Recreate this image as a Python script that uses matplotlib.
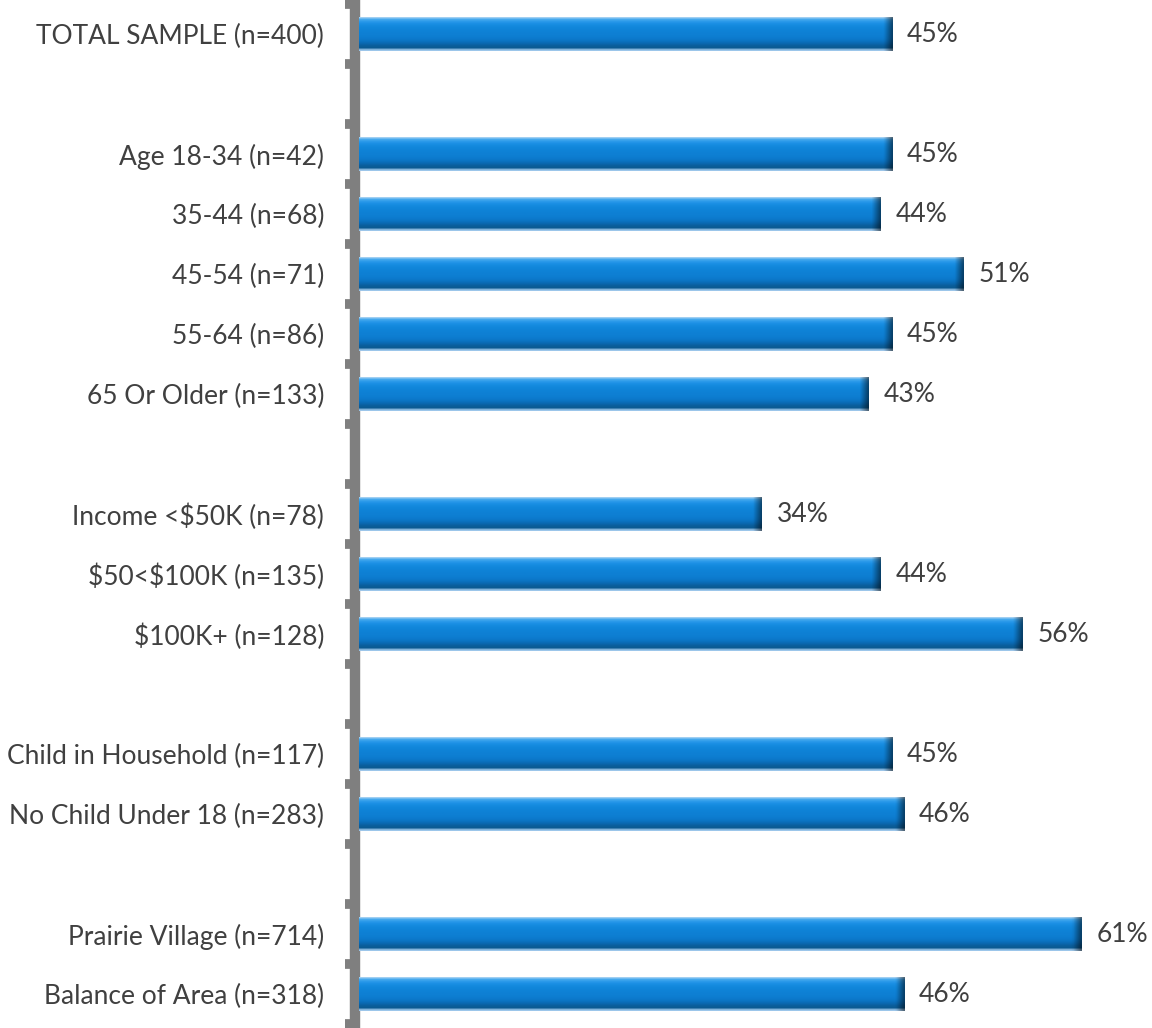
import numpy as np
import matplotlib
matplotlib.use("Agg")
import matplotlib.pyplot as plt
from matplotlib.colors import to_rgb

plt.rcParams["font.family"] = ["Lato", "DejaVu Sans"]

labels = ["TOTAL SAMPLE (n=400)",
          "Age 18-34 (n=42)", "35-44 (n=68)", "45-54 (n=71)", "55-64 (n=86)", "65 Or Older (n=133)",
          r"Income <\$50K (n=78)", r"\$50<\$100K (n=135)", r"\$100K+ (n=128)",
          "Child in Household (n=117)", "No Child Under 18 (n=283)",
          "Prairie Village (n=714)", "Balance of Area (n=318)"]
values = [45, 45, 44, 51, 45, 43, 34, 44, 56, 45, 46, 61, 46]
group_sizes = [1, 5, 3, 2, 2]

text_color = "#404040"
axis_gray = "#7f7f7f"

# positions: one empty slot between groups
pos = []
p = 0
for g in group_sizes:
    for i in range(g):
        pos.append(p)
        p += 1
    p += 1
n_slots = p - 1

# vertical colour profile of the bars (top -> bottom)
profile = ["#b5d8f4", "#48aaee", "#2b9aea", "#1a8fe4", "#138ade", "#1086da", "#0f83d7",
           "#0e81d5", "#0e7fd3", "#0d7dd0", "#0c79cb", "#0b72c0", "#0a68b0",
           "#0a5e9c", "#0b5a92", "#9cc6ea"]
prof = np.array([to_rgb(c) for c in profile])

fig = plt.figure(figsize=(11.52, 10.28), dpi=100)
ax = fig.add_axes([359 / 1152, 4 / 1028, (1152 - 359) / 1152, 1020 / 1028])

bar_h = 0.58
bars = ax.barh(pos, values, height=bar_h, color="#0d7fd6", edgecolor="none", zorder=2)

bevel = 0.7  # width of darker right end in data units
for b, v in zip(bars, values):
    ncol = 300
    xs = np.linspace(0, v, ncol)
    img = np.repeat(prof[:, None, :], ncol, axis=1).copy()
    dark = np.clip((xs - (v - bevel)) / bevel, 0, 1)
    img = img * (1 - 0.5 * dark[None, :, None])
    y0 = b.get_y()
    y1 = y0 + b.get_height()
    im = ax.imshow(img, extent=(0, v, y1, y0), aspect="auto", interpolation="bilinear", zorder=3)
    im.set_clip_path(b)
    ax.text(v + 1.25, b.get_y() + b.get_height() / 2, f"{v}%", va="center", ha="left",
            fontsize=19, color=text_color, zorder=4)

ax.set_xlim(0, (1152 - 359) / 11.85)
ax.set_ylim(n_slots - 0.5, -0.5)
ax.set_aspect("auto")

ax.set_yticks(pos)
ax.set_yticklabels(labels)
ax.tick_params(axis="y", which="major", length=0, pad=22, labelsize=19, labelcolor=text_color)
ax.set_yticks(np.arange(-0.5, n_slots, 1), minor=True)
ax.tick_params(axis="y", which="minor", length=7, width=7, color=axis_gray, direction="out")
ax.set_xticks([])

for s in ["top", "right", "bottom"]:
    ax.spines[s].set_visible(False)
ax.spines["left"].set_position(("outward", 3))
ax.spines["left"].set_linewidth(7.5)
ax.spines["left"].set_color(axis_gray)
ax.patch.set_visible(False)

fig.savefig("out.png", dpi=100)
